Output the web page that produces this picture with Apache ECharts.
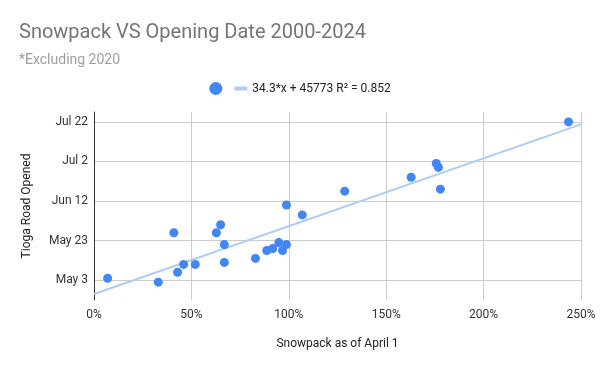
<!DOCTYPE html>
<html>
<head>
<meta charset="utf-8">
<script src="https://cdn.jsdelivr.net/npm/echarts@6/dist/echarts.min.js"></script>
<style>html,body{margin:0;padding:0;background:#fff}#c{width:600px;height:371px}</style>
</head>
<body>
<div id="c"></div>
<script>
// Snowpack as of April 1 (%)
const snowpack = [7.0, 33.0, 41.0, 42.9, 46.0, 52.0, 62.8, 65.0, 66.9, 66.9, 82.9, 88.7, 91.8, 94.9, 96.8, 98.8, 98.8, 106.9, 128.7, 162.8, 175.7, 176.8, 177.8, 243.6];
// Opening date, day of year (2025 calendar, 1 = Jan 1)
const openingDay = [124, 122, 147, 127, 131, 131, 147, 151, 141, 132, 134, 138, 139, 142, 138, 141, 161, 156, 168, 175, 182, 180, 169, 203];
// Trendline from the legend: serial = slope * x + intercept (x as fraction)
const trendSlope = 34.3;
const trendIntercept = 45773;
const trendLabel = '34.3*x + 45773 R² = 0.852';
const serialOfJan1 = 45658;
// Axis ticks
const xTicks = [0, 50, 100, 150, 200, 250];
const yTickDays = [123, 143, 163, 183, 203];
const yMin = 113, yMax = 208;

const months = ['Jan','Feb','Mar','Apr','May','Jun','Jul','Aug','Sep','Oct','Nov','Dec'];
function dayLabel(d) {
  const dt = new Date(Date.UTC(2025, 0, 1) + (d - 1) * 86400000);
  return months[dt.getUTCMonth()] + ' ' + dt.getUTCDate();
}
const toDay = s => s - serialOfJan1 + 1;
const trendData = [xTicks[0], xTicks[xTicks.length - 1]].map(x => [x, toDay(trendSlope * x / 100 + trendIntercept)]);

const font = 'Roboto, Arial, sans-serif';
const chart = echarts.init(document.getElementById('c'), null, {renderer: 'canvas'});
chart.setOption({
  animation: false,
  title: {
    text: 'Snowpack VS Opening Date 2000-2024',
    subtext: '*Excluding 2020',
    left: 14, top: 18,
    itemGap: 10,
    textStyle: {fontFamily: font, fontSize: 20, fontWeight: 'normal', color: '#757575'},
    subtextStyle: {fontFamily: font, fontSize: 14, color: '#9e9e9e'}
  },
  legend: {
    top: 77, left: 'center',
    itemWidth: 13, itemHeight: 13, itemGap: 12,
    symbolKeepAspect: true,
    textStyle: {fontFamily: font, fontSize: 12, color: '#222'},
    formatter: n => n === 'Opening' ? '' : n,
    data: [
      {name: 'Opening', icon: 'circle'},
      {name: trendLabel, icon: 'path://M0,0h13v4h-13z', itemStyle: {color: '#aecbfa'}}
    ]
  },
  grid: {left: 94, right: 19, top: 112, bottom: 71},
  xAxis: {
    type: 'value', min: 0, max: 250, interval: 50,
    name: 'Snowpack as of April 1', nameLocation: 'middle', nameGap: 38,
    nameTextStyle: {fontFamily: font, fontSize: 12, color: '#222'},
    axisLine: {show: false}, axisTick: {show: false},
    axisLabel: {formatter: v => v + '%', fontFamily: font, fontSize: 12, color: '#333', margin: 9},
    splitLine: {lineStyle: {color: '#cccccc'}}
  },
  yAxis: {
    type: 'value', min: yMin, max: yMax,
    name: 'Tioga Road Opened', nameLocation: 'middle', nameGap: 61,
    nameTextStyle: {fontFamily: font, fontSize: 12, color: '#222'},
    axisLine: {show: true, lineStyle: {color: '#333', width: 1}},
    axisTick: {show: false, customValues: yTickDays},
    axisLabel: {customValues: yTickDays, formatter: v => dayLabel(v), fontFamily: font, fontSize: 12, color: '#333', margin: 6},
    splitLine: {show: true, lineStyle: {color: '#cccccc'}}
  },
  series: [
    {
      name: trendLabel, type: 'line', data: trendData, symbol: 'none',
      lineStyle: {color: '#aecbfa', width: 2}, itemStyle: {color: '#aecbfa'}, z: 1
    },
    {
      name: 'Opening', type: 'scatter', symbolSize: 9,
      data: snowpack.map((x, i) => [x, openingDay[i]]),
      itemStyle: {color: '#4285f4', opacity: 1}, z: 2
    }
  ]
});
</script>
</body>
</html>
